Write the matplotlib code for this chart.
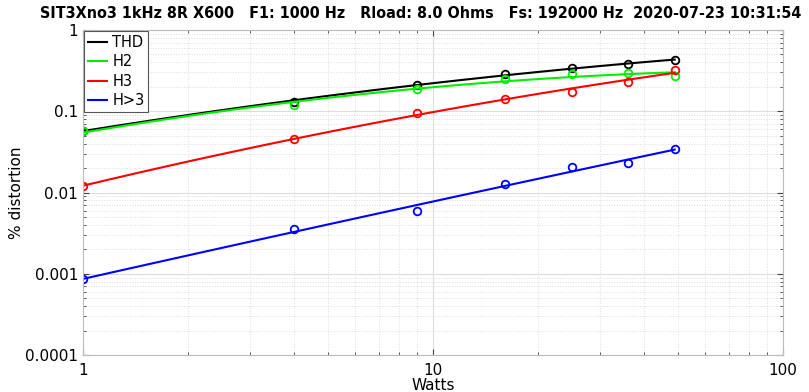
import numpy as np
import matplotlib
matplotlib.use("Agg")
import matplotlib.pyplot as plt
from matplotlib.ticker import FixedLocator, FixedFormatter, LogLocator, NullFormatter

title = "SIT3Xno3 1kHz 8R X600   F1: 1000 Hz   Rload: 8.0 Ohms   Fs: 192000 Hz  2020-07-23 10:31:54"

# measured power levels (W) and distortion (%)
watts = [1, 4, 9, 16, 25, 36, 49]
thd = [0.058, 0.13, 0.212, 0.285, 0.344, 0.382, 0.424]
h2 = [0.0566, 0.119, 0.186, 0.247, 0.287, 0.296, 0.274]
h3 = [0.0120, 0.0459, 0.096, 0.140, 0.174, 0.231, 0.325]
hx = [0.00086, 0.00352, 0.0060, 0.0128, 0.0206, 0.0229, 0.0343]

series = [("THD", thd, "black"), ("H2", h2, "#00ee00"),
          ("H3", h3, "red"), ("H>3", hx, "blue")]

fig = plt.figure(figsize=(8.09, 3.92), dpi=100)
ax = fig.add_axes([0.1026, 0.094, 0.8654, 0.8295])

x = np.array(watts, dtype=float)
xs = np.logspace(0, np.log10(x.max()), 100)
for name, vals, col in series:
    # trend curve: quadratic least squares fit in log-log space
    p = np.polyfit(np.log10(x), np.log10(vals), 2)
    ax.plot(xs, 10 ** np.polyval(p, np.log10(xs)), color=col, lw=1.5, label=name)
    ax.plot(x, vals, "o", mfc="none", mec=col, ms=5.5, mew=1.3)

ax.set_xscale("log")
ax.set_yscale("log")
ax.set_xlim(1, 100)
ax.set_ylim(1e-4, 1)

ax.xaxis.set_major_locator(FixedLocator([1, 10, 100]))
ax.xaxis.set_major_formatter(FixedFormatter(["1", "10", "100"]))
ax.yaxis.set_major_locator(FixedLocator([1e-4, 1e-3, 1e-2, 0.1, 1]))
ax.yaxis.set_major_formatter(FixedFormatter(["0.0001", "0.001", "0.01", "0.1", "1"]))
ax.xaxis.set_minor_locator(LogLocator(subs=np.arange(2, 10)))
ax.yaxis.set_minor_locator(LogLocator(subs=np.arange(2, 10)))
ax.xaxis.set_minor_formatter(NullFormatter())
ax.yaxis.set_minor_formatter(NullFormatter())

ax.grid(which="major", color="#dddddd", lw=0.8)
ax.grid(which="minor", color="#dddddd", lw=0.7, ls=":")
ax.tick_params(which="both", direction="in", top=True, right=True, colors="#444444",
               labelcolor="black", labelsize=11)
ax.tick_params(which="major", length=4)
ax.tick_params(which="minor", length=2)
ax.tick_params(axis="x", pad=6)
for s in ax.spines.values():
    s.set_color("#bbbbbb")

ax.set_xlabel("Watts", fontsize=11, labelpad=0)
ax.set_ylabel("% distortion", fontsize=11)
ax.yaxis.set_label_coords(-0.084, 0.5)
ax.text(0.483, 1.027, title, transform=ax.transAxes, ha="center", va="bottom",
        fontsize=11.5, fontweight="bold", fontstretch="condensed")

leg = ax.legend(loc="upper left", fontsize=10.5, handlelength=1.3, handletextpad=0.35,
                borderpad=0.25, labelspacing=0.3, fancybox=False, framealpha=1,
                borderaxespad=0.1)
leg.get_frame().set_edgecolor("#555555")
leg.get_frame().set_linewidth(0.8)

fig.savefig("out.png", dpi=100)
